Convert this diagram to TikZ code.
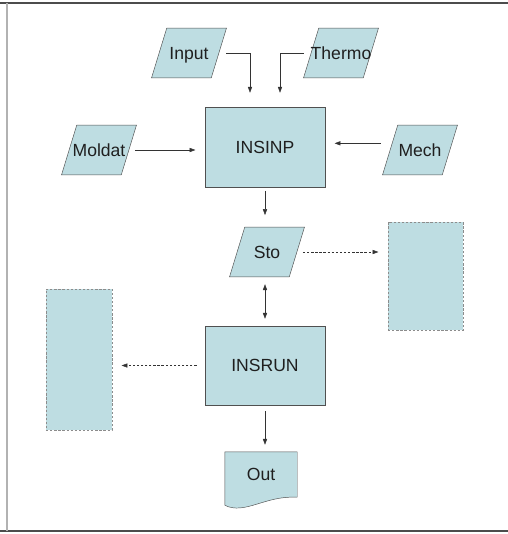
\documentclass[tikz,border=0pt]{standalone}
\usepackage{fontspec}
\setmainfont{Liberation Sans}
\usetikzlibrary{arrows.meta,shapes.geometric,backgrounds}
\definecolor{boxfill}{RGB}{190,221,226}
\definecolor{boxline}{RGB}{80,80,80}
\newcommand{\ptext}[1]{\makebox[0pt]{\rule[-3.15pt]{0pt}{17pt}#1}}

\begin{document}
\begin{tikzpicture}[x=0.03cm, y=-0.03cm,
  every node/.style={font=\fontsize{15}{17}\selectfont, text=black!88},
  modul/.style={rectangle, draw=boxline, fill=boxfill, minimum width=3.6cm, minimum height=2.4cm},
  datei/.style={trapezium, trapezium left angle=73, trapezium right angle=107, trapezium stretches body=true,
                draw=boxline, fill=boxfill, minimum width=2.25cm, inner xsep=0pt, inner ysep=0.45cm},
  ablage/.style={rectangle, draw=black!45, dash pattern=on 2pt off 1.5pt, fill=boxfill},
  ausgabe/.style={rectangle, minimum width=2.16cm, minimum height=1.35cm},
  link/.style={-{Triangle[length=5pt,width=3.6pt]}, draw=black!80, shorten <=5pt, shorten >=8pt},
  dlink/.style={link, dash pattern=on 2pt off 1.5pt}]

\useasboundingbox (0,0) rectangle (508,534);
\draw[black!70, line width=1.5pt] (0,3) -- (508,3);
\draw[black!70, line width=1.5pt] (0,531) -- (508,531);
\draw[black!30, line width=1.2pt] (7,3) -- (7,531);

\node[datei] (input)  at (189,53)  {\ptext{Input}};
\node[datei] (thermo) at (341,53)  {\ptext{Thermo}};
\node[datei] (moldat) at (99,150)  {\ptext{Moldat}};
\node[datei] (mech)   at (420,150) {\ptext{Mech}};
\node[modul] (insinp) at (265,147) {INSINP};
\node[datei] (sto)    at (267,252) {\ptext{Sto}};
\node[modul, minimum height=2.37cm] (insrun) at (265,365.5) {INSRUN};
\node[ablage, minimum width=2.25cm, minimum height=3.24cm] (ablageR) at (425.5,276) {};
\node[ablage, minimum width=1.98cm, minimum height=4.23cm] (ablageL) at (79,359.5) {};
\node[ausgabe] (out) at (261,474.5) {Out};

\begin{scope}[on background layer]
\draw[draw=boxline, fill=boxfill] (out.south east) -- (out.north east) -- (out.north west)
  -- ([yshift=-0.24cm]out.south west) .. controls +(0.6cm,-0.3cm) and +(-0.96cm,0.06cm) .. (out.south east) -- cycle;
\end{scope}

\draw[link, shorten <=6pt, shorten >=12pt] (input.east) -| ([xshift=-0.45cm]insinp.north);
\draw[link, shorten <=6pt, shorten >=12pt] (thermo.west) -| ([xshift=0.45cm]insinp.north);
\draw[link] (moldat.east) -- (moldat.east -| insinp.west);
\draw[link, shorten <=8pt] ([yshift=2mm]mech.west) -- ([yshift=2mm]mech.west -| insinp.east);
\draw[link, shorten <=3pt, shorten >=10pt] (insinp.south) -- (insinp.south |- sto.north);
\draw[link, {Triangle[length=5pt,width=3.6pt]}-{Triangle[length=5pt,width=3.6pt]}, shorten <=6pt, shorten >=6pt]
  (insrun.north |- sto.south) -- (insrun.north);
\draw[dlink] (sto.east) -- (sto.east -| ablageR.west);
\draw[dlink, shorten <=7pt] (insrun.west) -- (insrun.west -| ablageL.east);
\draw[link, shorten >=6pt] (insrun.south) -- (insrun.south |- out.north);
\end{tikzpicture}
\end{document}
